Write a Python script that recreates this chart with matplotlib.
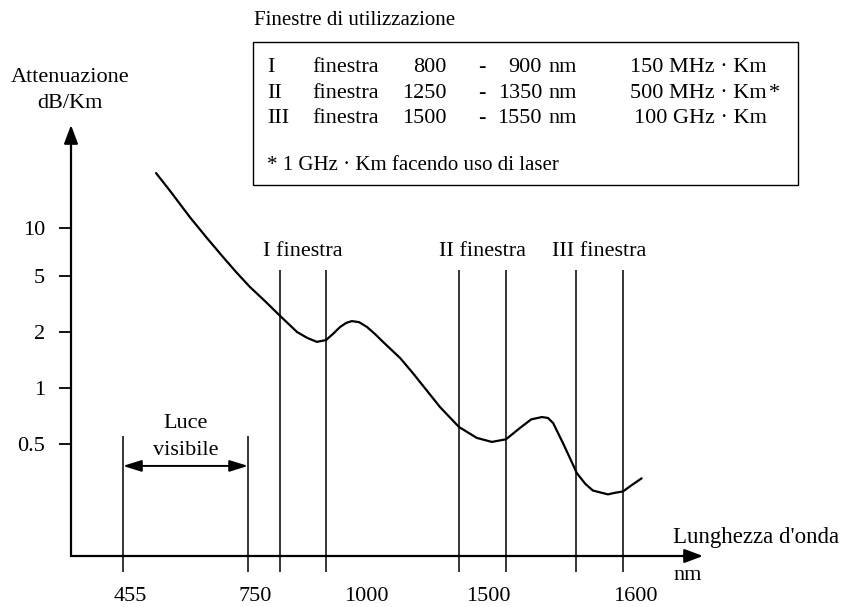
import numpy as np
import matplotlib
matplotlib.use("Agg")
import matplotlib.pyplot as plt
from matplotlib.patches import Rectangle

# ─── DATA ──────────────────────────────────────────────────────────
# attenuation curve
wavelength = [533, 566, 613, 653, 691, 724, 753, 777, 798, 837, 859, 880, 900, 918, 937,
              953, 968, 987, 1008, 1029, 1050, 1095, 1129, 1200, 1250, 1288, 1320, 1350,
              1380, 1404, 1427, 1440, 1451, 1472, 1487, 1501, 1510, 1518, 1534, 1541,
              1550, 1560, 1571]
attenuation = [22.3, 17.2, 11.7, 8.66, 6.58, 5.22, 4.18, 3.30, 2.66, 2.0, 1.86, 1.77, 1.81,
               1.95, 2.17, 2.32, 2.39, 2.35, 2.17, 1.95, 1.77, 1.45, 1.20, 0.79, 0.617,
               0.539, 0.513, 0.530, 0.610, 0.678, 0.698, 0.690, 0.648, 0.506, 0.420,
               0.348, 0.305, 0.281, 0.268, 0.273, 0.278, 0.301, 0.327]

window_names = ["I", "II", "III"]
window_lo = [800, 1250, 1500]
window_hi = [900, 1350, 1550]
window_band = ["150 MHz · Km", "500 MHz · Km", "100 GHz · Km"]
window_note = ["", "*", ""]
footnote = "* 1 GHz · Km facendo uso di laser"

visible = [455, 750]
y_ticks = [0.5, 1, 2, 5, 10]
y_tick_labels = ["0.5", "1", "2", "5", "10"]
x_tick_labels = ["455", "750", "1000", "1500", "1600"]

# ─── SCHEMATIC SCALES (the drawing is not to scale) ────────────────
W, H = 845, 607
X_NM = [330, 455, 750, 800, 900, 1250, 1350, 1500, 1550, 1640]
X_PX = [71, 123, 248, 280, 326, 459, 506, 576, 623, 703]
Y_VAL = [0.125, 0.5, 1, 2, 5, 10, 45]
Y_PX = [556, 444, 388, 332, 276, 228, 125]
x_label_pos = [472, 761, 1005, 1312, 1564]   # where the schematic labels sit


def piecewise(a, b, ext):
    a = np.asarray(a, float); b = np.asarray(b, float)
    s0 = (b[1] - b[0]) / (a[1] - a[0]); s1 = (b[-1] - b[-2]) / (a[-1] - a[-2])
    a2 = np.concatenate([[a[0] - ext], a, [a[-1] + ext]])
    b2 = np.concatenate([[b[0] - ext * s0], b, [b[-1] + ext * s1]])
    return (lambda v: np.interp(v, a2, b2)), (lambda u: np.interp(u, b2, a2))


xf, xi = piecewise(X_NM, X_PX, 1e5)
yf0, yi0 = piecewise(np.log10(Y_VAL), -np.asarray(Y_PX, float), 20)
yf = lambda v: yf0(np.log10(np.clip(np.asarray(v, float), 1e-15, None)))
yi = lambda u: 10 ** yi0(u)

plt.rcParams["font.family"] = ["Liberation Serif", "DejaVu Serif"]
FS = 16

fig = plt.figure(figsize=(W / 100, H / 100), dpi=100)
ax = fig.add_axes([X_PX[0] / W, (H - Y_PX[0]) / H,
                   (X_PX[-1] - X_PX[0]) / W, (Y_PX[0] - Y_PX[-1]) / H])
ax.set_xscale("function", functions=(xf, xi))
ax.set_yscale("function", functions=(yf, yi))
ax.set_xlim(X_NM[0], X_NM[-1])
ax.set_ylim(Y_VAL[0], Y_VAL[-1])
for s in ax.spines.values():
    s.set_visible(False)

# axes with arrow heads
arr = dict(arrowstyle="-|>,head_length=0.8,head_width=0.3", color="k", lw=1.6,
           mutation_scale=14, shrinkA=0, shrinkB=0)
ax.annotate("", xy=(1, 0), xytext=(0, 0), xycoords="axes fraction", arrowprops=arr)
ax.annotate("", xy=(0, 1), xytext=(0, 0), xycoords="axes fraction", arrowprops=arr)

ax.set_yticks(y_ticks, y_tick_labels)
ax.set_xticks(x_label_pos, x_tick_labels)
ax.minorticks_off()
ax.tick_params(axis="y", direction="out", length=8.6, width=1.3, pad=10, labelsize=FS)
ax.tick_params(axis="x", length=0, pad=22, labelsize=FS)

tr = ax.get_xaxis_transform()

# curve
ax.plot(wavelength, attenuation, color="k", lw=1.6, solid_capstyle="round",
        solid_joinstyle="round")

# windows
for name, lo, hi in zip(window_names, window_lo, window_hi):
    ax.vlines([lo, hi], -0.037, 0.664, transform=tr, color="k", lw=1.1, clip_on=False)
    mid = xi((xf(lo) + xf(hi)) / 2)
    ax.text(mid, 0.695, f"{name} finestra", transform=tr, ha="center", va="baseline",
            fontsize=FS)

# visible light
ax.vlines(visible, -0.037, 0.278, transform=tr, color="k", lw=1.1, clip_on=False)
ax.annotate("", xy=(visible[1], 0.209), xytext=(visible[0], 0.209), xycoords=tr,
            arrowprops=dict(arrowstyle="<|-|>,head_length=0.8,head_width=0.25",
                            color="k", lw=1.4, mutation_scale=14, shrinkA=0, shrinkB=0))
vmid = xi((xf(visible[0]) + xf(visible[1])) / 2)
ax.text(vmid, 0.297, "Luce", transform=tr, ha="center", va="baseline", fontsize=FS)
ax.text(vmid, 0.234, "visibile", transform=tr, ha="center", va="baseline", fontsize=FS)


def ftext(px, py, s, **kw):
    kw.setdefault("fontsize", FS)
    kw.setdefault("va", "baseline")
    fig.text(px / W, 1 - py / H, s, **kw)


# axis titles
ftext(70, 82, "Attenuazione", ha="center")
ftext(70, 108, "dB/Km", ha="center")
ftext(673, 543, "Lunghezza d'onda", ha="left", fontsize=16.5)
ftext(673, 580, "nm", ha="left")

# table of windows
ftext(254, 25, "Finestre di utilizzazione", ha="left", fontsize=15)
fig.add_artist(Rectangle((253 / W, 1 - 185 / H), (798 - 253) / W, (185 - 42) / H,
                         transform=fig.transFigure, fill=False, lw=1.0, ec="k"))
for i, (name, lo, hi, band, note) in enumerate(zip(window_names, window_lo, window_hi,
                                                   window_band, window_note)):
    yb = 72 + 25.5 * i
    ftext(267, yb, name, ha="left")
    ftext(312, yb, "finestra", ha="left")
    ftext(447, yb, str(lo), ha="right")
    ftext(482, yb, "-", ha="center")
    ftext(542, yb, str(hi), ha="right")
    ftext(548, yb, "nm", ha="left")
    ftext(767, yb, band, ha="right")
    if note:
        ftext(769, yb, note, ha="left")
ftext(267, 170, footnote, ha="left", fontsize=15)

fig.savefig("out.png", dpi=100, facecolor="white")
